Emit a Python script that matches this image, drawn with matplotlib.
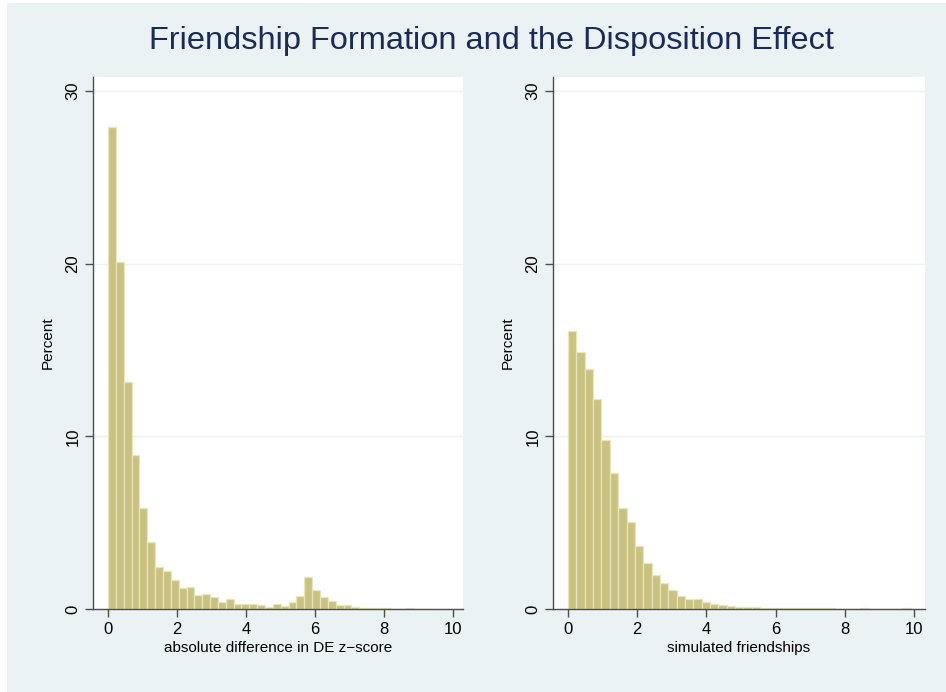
import matplotlib
matplotlib.use("Agg")
import matplotlib.pyplot as plt
import numpy as np
from matplotlib.patches import Rectangle

plt.rcParams["font.family"] = ["Liberation Sans", "DejaVu Sans"]

# histogram of absolute difference in DE z-score (percent per bin)
left_bin_width = 0.2276
left_pct = [27.9, 20.07, 13.13, 8.91, 5.82, 3.86, 2.45, 2.18, 1.68, 1.22,
            1.29, 0.79, 0.87, 0.70, 0.42, 0.58, 0.31, 0.27, 0.27, 0.25,
            0.13, 0.27, 0.17, 0.38, 0.75, 1.87, 1.10, 0.70, 0.46, 0.25,
            0.21, 0.12, 0.08, 0.06, 0.04, 0.03, 0.02, 0.02, 0.03, 0.02, 0.01]

# histogram of simulated friendships (percent per bin)
right_bin_width = 0.2415
right_pct = [16.10, 14.88, 13.90, 12.16, 9.80, 7.87, 5.86, 5.06, 3.63, 2.67,
             1.97, 1.53, 1.10, 0.74, 0.57, 0.59, 0.38, 0.27, 0.21, 0.16,
             0.12, 0.10, 0.09, 0.08, 0.07, 0.06, 0.06, 0.05, 0.04, 0.04,
             0.03, 0.03, 0.02, 0.02, 0.0, 0.03, 0.0, 0.0, 0.0, 0.01, 0.03]

xlabels = ["absolute difference in DE z\u2212score", "simulated friendships"]
yticks = [0, 10, 20, 30]
xticks = [0, 2, 4, 6, 8, 10]

BG = "#eaf2f3"
BAR = "#c9c281"
EDGE = "#e9e5bd"
AXIS = "#4d4d4d"
TITLE = "#1b2a56"

fig = plt.figure(figsize=(9.46, 6.92), dpi=100, facecolor="white")
fig.patches.append(Rectangle((7 / 946, 0), 1, 1 - 3 / 692, transform=fig.transFigure,
                             facecolor=BG, edgecolor="none", zorder=-10))

fig.text(491 / 946, 1 - 41 / 692, "Friendship Formation and the Disposition Effect",
         ha="center", va="center", fontsize=23.4, color=TITLE)

panels = [
    (93, 463, left_pct, left_bin_width, 10.29),
    (553, 925, right_pct, right_bin_width, 10.32),
]

for i, (x0, x1, pct, bw, xmax) in enumerate(panels):
    ax = fig.add_axes([x0 / 946, (692 - 609) / 692, (x1 - x0) / 946, (609 - 77) / 692])
    ax.set_facecolor("white")
    edges = np.arange(len(pct)) * bw
    ax.bar(edges, pct, width=bw, align="edge", color=BAR, edgecolor=EDGE,
           linewidth=0.9, zorder=3)
    ax.set_xlim(-0.435, xmax)
    ax.set_ylim(0, 30.8)
    ax.set_yticks(yticks)
    ax.set_xticks(xticks)
    ax.grid(axis="y", color=BG, linewidth=1.0, zorder=1)
    ax.set_axisbelow(True)
    for s in ["top", "right"]:
        ax.spines[s].set_visible(False)
    for s in ["left", "bottom"]:
        ax.spines[s].set_color(AXIS)
        ax.spines[s].set_linewidth(1.0)
        ax.spines[s].set_zorder(4)
    ax.tick_params(direction="out", length=6, width=1.0, color=AXIS,
                   labelsize=12, labelcolor="black", pad=3)
    for lab in ax.get_yticklabels():
        lab.set_rotation(90)
        lab.set_va("center")
    ax.set_ylabel("Percent", fontsize=11, labelpad=8)
    ax.set_xlabel(xlabels[i], fontsize=11, labelpad=3)

fig.savefig("out.png", dpi=100, facecolor="white")
